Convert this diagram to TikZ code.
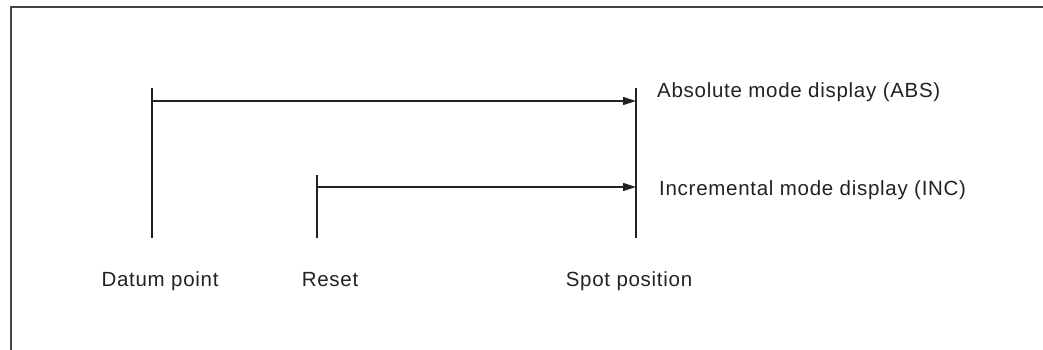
\documentclass[tikz,border=0pt]{standalone}
\usepackage{fontspec}
\setmainfont{Liberation Sans}[LetterSpace=3.5]
\usetikzlibrary{arrows.meta}
\definecolor{ink}{HTML}{222222}
\definecolor{framec}{HTML}{444444}
\begin{document}
\begin{tikzpicture}[x=1pt,y=-1pt,
  frameline/.style={draw=framec,line width=1.6pt},
  tick/.style={draw=ink,line width=1.1pt},
  dimarrow/.style={draw=ink,line width=1.1pt,-{Triangle[length=13pt,width=8pt]}},
  lbl/.style={inner sep=0pt,font=\fontsize{20.5}{24}\selectfont,text=ink}]
\useasboundingbox (0,0) rectangle (1043,350);
% frame
\draw[frameline] (11,350) -- (11,7) -- (1043,7);
% tick lines
\coordinate (datumtop) at (152,88);
\coordinate (datumbot) at (152,238);
\coordinate (resettop) at (317,175);
\coordinate (resetbot) at (317,238);
\coordinate (spottop) at (636,88);
\coordinate (spotbot) at (636,238);
\draw[tick] (datumtop) -- (datumbot);
\draw[tick] (resettop) -- (resetbot);
\draw[tick] (spottop) -- (spotbot);
% arrows
\coordinate (absstart) at (152,101);
\coordinate (absend) at (636,101);
\coordinate (incstart) at (317,187);
\coordinate (incend) at (636,187);
\draw[dimarrow] (absstart) -- (absend);
\draw[dimarrow] (incstart) -- (incend);
% labels
\node[lbl,anchor=base west] (abs) at (657,97.5) {Absolute mode display (ABS)};
\node[lbl,anchor=base west] (inc) at (659,195) {Incremental mode display (INC)};
\node[lbl,anchor=base] (datum) at (160,286.5) {Datum point};
\node[lbl,anchor=base] (reset) at (330,286.5) {Reset};
\node[lbl,anchor=base] (spot) at (629,286.5) {Spot position};
\end{tikzpicture}
\end{document}
